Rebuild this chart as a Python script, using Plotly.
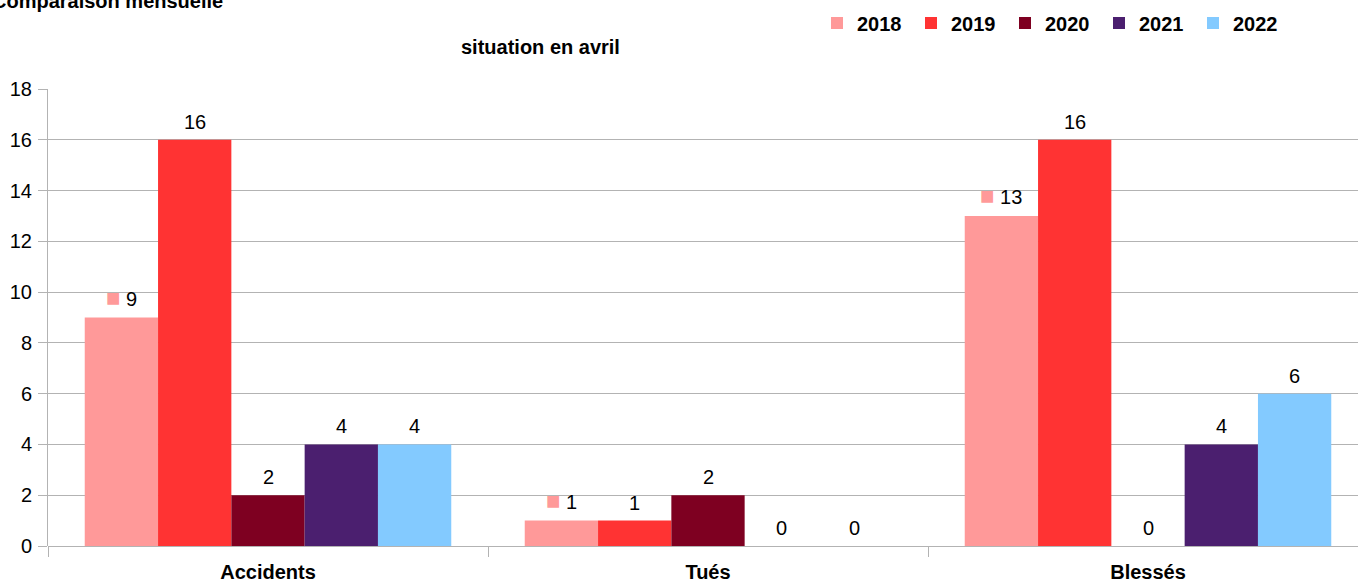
import plotly.graph_objects as go

categories = ["Accidents", "Tués", "Blessés"]
years = ["2018", "2019", "2020", "2021", "2022"]
values = {
    "2018": [9, 1, 13],
    "2019": [16, 1, 16],
    "2020": [2, 2, 0],
    "2021": [4, 0, 4],
    "2022": [4, 0, 6],
}
colors = {
    "2018": "#ff9999",
    "2019": "#ff3333",
    "2020": "#7e0021",
    "2021": "#4b1f6f",
    "2022": "#83caff",
}
title_main = "Comparaison mensuelle"
subtitle = "situation en avril"

W, H = 1358, 583
ml, mr, mt, mb = 48, 0, 89, 37
plot_w = W - ml - mr
plot_h = H - mt - mb
cat_px = 440.0
x_max = -0.5 + plot_w / cat_px
bargap = 0.167
bar_px = cat_px * (1 - bargap) / len(years)
FONT = "Liberation Sans"

fig = go.Figure()
for y in years:
    fig.add_trace(go.Bar(
        name=y, x=categories, y=values[y],
        marker=dict(color=colors[y], line=dict(width=0)),
    ))

annotations = []
for i, y in enumerate(years):
    off = (i - (len(years) - 1) / 2) * bar_px
    for c, v in zip(categories, values[y]):
        txt = str(v)
        if y == "2018":
            txt = f"<span style='color:{colors[y]};font-size:24px'>■</span> {v}"
        annotations.append(dict(
            x=c, y=v, xref="x", yref="y", text=txt, showarrow=False,
            xshift=off, yshift=5, yanchor="bottom", xanchor="center",
            font=dict(size=20, color="#000000", family=FONT),
        ))

annotations.append(dict(
    x=(-10 - ml) / plot_w, y=1 + (mt - 1) / plot_h, xref="paper", yref="paper",
    text=f"<b>{title_main}</b>", showarrow=False, xanchor="left", yanchor="middle",
    font=dict(size=20, color="#000000", family=FONT),
))
annotations.append(dict(
    x=(540 - ml) / plot_w, y=1 + (mt - 47) / plot_h, xref="paper", yref="paper",
    text=f"<b>{subtitle}</b>", showarrow=False, xanchor="center", yanchor="middle",
    font=dict(size=20, color="#000000", family=FONT),
))

fig.update_layout(
    width=W, height=H,
    margin=dict(l=ml, r=mr, t=mt, b=mb, pad=0, autoexpand=False),
    paper_bgcolor="white", plot_bgcolor="white",
    barmode="group", bargap=bargap, bargroupgap=0,
    font=dict(family=FONT, size=20, color="#000000"),
    showlegend=True,
    legend=dict(
        orientation="h", x=(817 - ml) / plot_w, y=1 + (mt - 23) / plot_h,
        xanchor="left", yanchor="middle",
        font=dict(size=20, family=FONT, color="#000000", weight="bold"),
        entrywidth=49, entrywidthmode="pixels", itemwidth=30,
        bgcolor="rgba(0,0,0,0)", traceorder="normal",
    ),
    annotations=annotations,
    xaxis=dict(
        type="category", range=[-0.5, x_max], tickson="boundaries",
        ticks="outside", ticklen=10, tickcolor="#b3b3b3", tickwidth=1,
        showgrid=False, showline=False, zeroline=False,
        ticklabelstandoff=12,
        tickfont=dict(size=20, family=FONT, color="#000000", weight="bold"),
    ),
    yaxis=dict(
        range=[0, 18], dtick=2, ticks="outside", ticklen=9, tickcolor="#b3b3b3",
        showgrid=True, gridcolor="#b3b3b3", gridwidth=1,
        showline=True, linecolor="#b3b3b3", linewidth=1,
        zeroline=True, zerolinecolor="#b3b3b3", zerolinewidth=1,
        ticklabelstandoff=2,
        tickfont=dict(size=20, family=FONT, color="#000000"),
    ),
)

fig.write_html(
    "out.html",
    config={"displayModeBar": False},
    post_script="document.body.style.margin='0';document.body.style.padding='0';",
)
